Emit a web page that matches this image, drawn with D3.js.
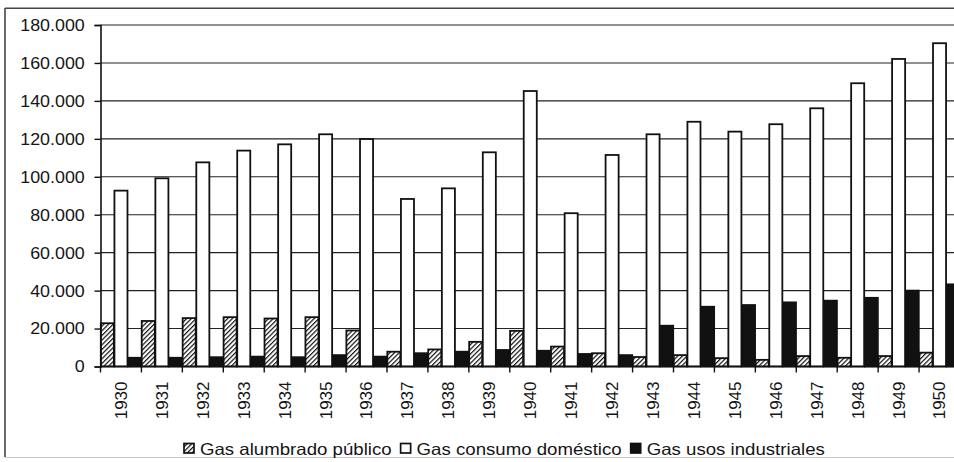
<!DOCTYPE html>
<html>
<head>
<meta charset="utf-8">
<script src="https://cdn.jsdelivr.net/npm/d3@7"></script>
<style>
  html, body { margin: 0; padding: 0; background: #fff; }
  svg { display: block; font-family: "Liberation Sans", Arial, sans-serif; }
</style>
</head>
<body>
<svg id="chart" width="954" height="462"></svg>
<script>
// Years on the x axis
const years = ['1930', '1931', '1932', '1933', '1934', '1935', '1936', '1937', '1938', '1939', '1940',
  '1941', '1942', '1943', '1944', '1945', '1946', '1947', '1948', '1949', '1950']

// Series values
const alumbrado = [22800, 24000, 25500, 26000, 25300, 26000, 19000, 7800, 9000, 13000, 18800,
  10500, 7000, 5000, 6000, 4400, 3500, 5500, 4600, 5500, 7300]
const domestico = [92700, 99200, 107600, 113800, 117100, 122400, 119900, 88300, 93900, 112900, 145200,
  80800, 111500, 122400, 129000, 123800, 127700, 136100, 149300, 162100, 170400]
const industrial = [4600, 4600, 4900, 5200, 4900, 6000, 5200, 7000, 7800, 8700, 8300,
  6600, 6000, 21500, 31500, 32400, 33800, 34700, 36200, 40000, 43300]

const seriesNames = ['Gas alumbrado público', 'Gas consumo doméstico', 'Gas usos industriales']
const yTicks = [0, 20000, 40000, 60000, 80000, 100000, 120000, 140000, 160000, 180000]

const data = years.map((y, i) => ({ year: y, values: [alumbrado[i], domestico[i], industrial[i]] }))

const svg = d3.select('#chart')
const ink = '#111'

// Hatch pattern for the public lighting series
let defs = svg.append('defs')
let hatch = defs.append('pattern')
    .attr('id', 'hatch')
    .attr('patternUnits', 'userSpaceOnUse')
    .attr('width', 3.3)
    .attr('height', 3.3)
    .attr('patternTransform', 'rotate(45)')
hatch.append('rect').attr('width', 3.3).attr('height', 3.3).attr('fill', '#fff')
hatch.append('line')
  .attr('x1', 0.6).attr('y1', 0).attr('x2', 0.6).attr('y2', 3.3)
  .attr('stroke', ink).attr('stroke-width', 1.2)

const fills = ['url(#hatch)', '#fff', ink]

// Outer frame (right edge falls off the picture)
svg.append('line').attr('x1', 5).attr('x2', 5).attr('y1', 8).attr('y2', 457)
  .attr('stroke', '#444').attr('stroke-width', 1.6)
svg.append('line').attr('x1', 5).attr('x2', 954).attr('y1', 8.3).attr('y2', 8.3)
  .attr('stroke', '#444').attr('stroke-width', 1.6)
svg.append('line').attr('x1', 5).attr('x2', 954).attr('y1', 457.5).attr('y2', 457.5)
  .attr('stroke', '#c8c8c8').attr('stroke-width', 1.2)

const plotLeft = 100.5
const plotRight = 960
const plotTop = 25
const plotBottom = 366.5

let x = d3.scaleBand().domain(years).range([plotLeft, plotRight]).padding(0)
let xSub = d3.scaleBand().domain([0, 1, 2]).range([0, x.bandwidth()]).padding(0)
let y = d3.scaleLinear().domain([0, 180000]).range([plotBottom, plotTop])

let locale = d3.formatLocale({ decimal: ',', thousands: '.', grouping: [3], currency: ['', ' €'] })
let fmt = locale.format(',d')

// Horizontal gridlines
svg.append('g')
  .attr('class', 'grid')
  .selectAll('line')
  .data(yTicks.slice(1))
  .join('line')
    .attr('x1', plotLeft)
    .attr('x2', plotRight)
    .attr('y1', d => y(d))
    .attr('y2', d => y(d))
    .attr('stroke', '#222')
    .attr('stroke-width', 1.1)

// Bars
let groups = svg.append('g')
    .attr('class', 'bars')
    .selectAll('g')
    .data(data)
    .join('g')
    .attr('transform', d => `translate(${x(d.year)},0)`)

groups.selectAll('rect')
  .data(d => d.values.map((v, i) => ({ i, v })))
  .join('rect')
    .attr('x', d => xSub(d.i) + 0.3)
    .attr('width', xSub.bandwidth() - 0.6)
    .attr('y', d => y(d.v))
    .attr('height', d => y(0) - y(d.v))
    .attr('fill', d => fills[d.i])
    .attr('stroke', ink)
    .attr('stroke-width', 1.8)

// Y axis
let yAxis = d3.axisLeft(y)
    .tickValues(yTicks)
    .tickFormat(fmt)
    .tickSize(6)
    .tickPadding(9)
let yAxisG = svg.append('g')
    .attr('class', 'axis axis-y')
    .attr('transform', `translate(${plotLeft},0)`)
    .call(yAxis)
yAxisG.select('.domain').attr('stroke', ink).attr('stroke-width', 1.6)
yAxisG.selectAll('.tick line').attr('stroke', ink).attr('stroke-width', 1.4)
// the source text is slightly wide, stretch it a little
yAxisG.selectAll('.tick text')
  .attr('fill', '#151515')
  .attr('transform', 'scale(1.05,1)')
  .style('font-size', '17px')

// X axis: ticks sit on the category boundaries, labels rotated
let xAxisG = svg.append('g')
    .attr('class', 'axis axis-x')
    .attr('transform', `translate(0,${plotBottom})`)
xAxisG.append('line')
  .attr('x1', plotLeft).attr('x2', plotRight)
  .attr('stroke', ink).attr('stroke-width', 1.6)
xAxisG.selectAll('.tick-mark')
  .data(years)
  .join('line')
    .attr('class', 'tick-mark')
    .attr('x1', d => x(d)).attr('x2', d => x(d))
    .attr('y1', 0).attr('y2', 6)
    .attr('stroke', ink).attr('stroke-width', 1.4)
xAxisG.selectAll('.tick-label')
  .data(years)
  .join('text')
    .attr('class', 'tick-label')
    .attr('transform', d => `translate(${x(d) + x.bandwidth() / 2},15) rotate(-90)`)
    .attr('dy', '0.35em')
    .attr('text-anchor', 'end')
    .attr('fill', '#151515')
    .style('font-size', '17px')
    .text(d => d)

// Legend laid out left to right
const legendStretch = 1.13
let legend = svg.append('g').attr('class', 'legend')
let lx = 184
seriesNames.forEach((name, i) => {
  legend.append('rect')
    .attr('x', lx).attr('y', 443.5)
    .attr('width', 10).attr('height', 9.5)
    .attr('fill', fills[i])
    .attr('stroke', ink)
    .attr('stroke-width', 1.7)
  let t = legend.append('text')
    .attr('transform', `translate(${lx + 16},454.5) scale(${legendStretch},1)`)
    .attr('fill', '#151515')
    .style('font-size', '16.5px')
    .text(name)
  lx += 16 + t.node().getComputedTextLength() * legendStretch + 9
})
</script>
</body>
</html>
